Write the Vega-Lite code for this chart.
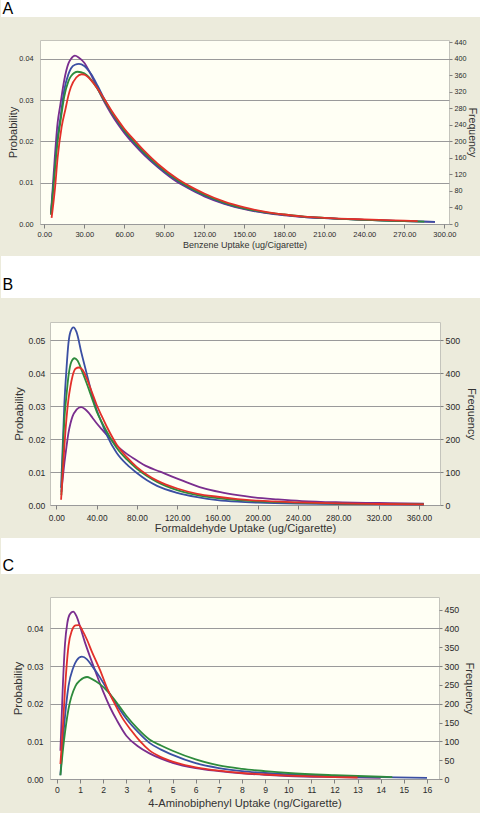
{
  "$schema": "https://vega.github.io/schema/vega-lite/v6.json",
  "background": "#ECEBDC",
  "padding": {"left": 0, "right": 0, "top": 0, "bottom": 3},
  "spacing": 2,
  "columns": 1,
  "align": "none",
  "config": {
    "font": "Liberation Sans",
    "view": {"stroke": "#C4C4BC", "fill": "#FFFFF4"},
    "axis": {"labelFont": "Liberation Sans", "titleFont": "Liberation Sans", "labelColor": "#2A2A2A", "titleColor": "#333333", "titleFontWeight": "normal", "domain": false, "tickColor": "#808080", "labelFlush": false, "labelOverlap": false, "labelBound": false, "grid": false, "gridColor": "#9A9A9A", "gridWidth": 1},
    "title": {"font": "Liberation Sans", "fontWeight": "normal", "color": "#000000", "fontSize": 16, "anchor": "start", "frame": "group", "baseline": "alphabetic", "dx": 1.5},
    "line": {"strokeWidth": 1.8, "interpolate": "monotone"},
    "point": {"opacity": 0, "size": 1}
  },
  "datasets": {
    "a": [
      {"x":5,"p":0.0025,"s":"S1"},{"x":7,"p":0.012,"s":"S1"},{"x":10,"p":0.0245,"s":"S1"},{"x":12,"p":0.0288,"s":"S1"},{"x":15,"p":0.0349,"s":"S1"},{"x":18,"p":0.0388,"s":"S1"},{"x":20,"p":0.0400,"s":"S1"},{"x":23,"p":0.0408,"s":"S1"},{"x":26,"p":0.0403,"s":"S1"},{"x":30,"p":0.0391,"s":"S1"},{"x":35,"p":0.0362,"s":"S1"},{"x":40,"p":0.0328,"s":"S1"},{"x":45,"p":0.0296,"s":"S1"},{"x":50,"p":0.0268,"s":"S1"},{"x":55,"p":0.0243,"s":"S1"},{"x":60,"p":0.0221,"s":"S1"},{"x":67,"p":0.0194,"s":"S1"},{"x":75,"p":0.0167,"s":"S1"},{"x":85,"p":0.0138,"s":"S1"},{"x":100,"p":0.0101,"s":"S1"},{"x":110,"p":0.0083,"s":"S1"},{"x":120,"p":0.0067,"s":"S1"},{"x":135,"p":0.0049,"s":"S1"},{"x":150,"p":0.0036,"s":"S1"},{"x":165,"p":0.0027,"s":"S1"},{"x":180,"p":0.0021,"s":"S1"},{"x":195,"p":0.0017,"s":"S1"},{"x":210,"p":0.0014,"s":"S1"},{"x":240,"p":0.0010,"s":"S1"},{"x":270,"p":0.0007,"s":"S1"},{"x":293,"p":0.0005,"s":"S1"},
      {"x":5,"p":0.0025,"s":"S2"},{"x":7,"p":0.010,"s":"S2"},{"x":10,"p":0.021,"s":"S2"},{"x":12,"p":0.0255,"s":"S2"},{"x":15,"p":0.0325,"s":"S2"},{"x":18,"p":0.0362,"s":"S2"},{"x":20,"p":0.0377,"s":"S2"},{"x":23,"p":0.0386,"s":"S2"},{"x":26,"p":0.0388,"s":"S2"},{"x":30,"p":0.0383,"s":"S2"},{"x":35,"p":0.0364,"s":"S2"},{"x":40,"p":0.0335,"s":"S2"},{"x":45,"p":0.0303,"s":"S2"},{"x":50,"p":0.0274,"s":"S2"},{"x":55,"p":0.0248,"s":"S2"},{"x":60,"p":0.0225,"s":"S2"},{"x":67,"p":0.0198,"s":"S2"},{"x":75,"p":0.0170,"s":"S2"},{"x":85,"p":0.0140,"s":"S2"},{"x":100,"p":0.0104,"s":"S2"},{"x":110,"p":0.0085,"s":"S2"},{"x":120,"p":0.0069,"s":"S2"},{"x":135,"p":0.0050,"s":"S2"},{"x":150,"p":0.0037,"s":"S2"},{"x":165,"p":0.0028,"s":"S2"},{"x":180,"p":0.0022,"s":"S2"},{"x":195,"p":0.0017,"s":"S2"},{"x":210,"p":0.0014,"s":"S2"},{"x":240,"p":0.0010,"s":"S2"},{"x":270,"p":0.0007,"s":"S2"},{"x":293,"p":0.0005,"s":"S2"},
      {"x":5,"p":0.0022,"s":"S3"},{"x":7,"p":0.0095,"s":"S3"},{"x":10,"p":0.0200,"s":"S3"},{"x":12,"p":0.0245,"s":"S3"},{"x":15,"p":0.0309,"s":"S3"},{"x":18,"p":0.0345,"s":"S3"},{"x":20,"p":0.0358,"s":"S3"},{"x":25,"p":0.0369,"s":"S3"},{"x":30,"p":0.0365,"s":"S3"},{"x":35,"p":0.0350,"s":"S3"},{"x":40,"p":0.0327,"s":"S3"},{"x":45,"p":0.0300,"s":"S3"},{"x":50,"p":0.0274,"s":"S3"},{"x":55,"p":0.0250,"s":"S3"},{"x":60,"p":0.0227,"s":"S3"},{"x":67,"p":0.0201,"s":"S3"},{"x":75,"p":0.0173,"s":"S3"},{"x":85,"p":0.0143,"s":"S3"},{"x":100,"p":0.0106,"s":"S3"},{"x":110,"p":0.0087,"s":"S3"},{"x":120,"p":0.0071,"s":"S3"},{"x":135,"p":0.0052,"s":"S3"},{"x":150,"p":0.0038,"s":"S3"},{"x":165,"p":0.0029,"s":"S3"},{"x":180,"p":0.0023,"s":"S3"},{"x":195,"p":0.0018,"s":"S3"},{"x":210,"p":0.0015,"s":"S3"},{"x":240,"p":0.0010,"s":"S3"},{"x":270,"p":0.0007,"s":"S3"},{"x":285,"p":0.0006,"s":"S3"},
      {"x":5.5,"p":0.0015,"s":"S4"},{"x":8,"p":0.0085,"s":"S4"},{"x":10,"p":0.0160,"s":"S4"},{"x":13,"p":0.0235,"s":"S4"},{"x":16,"p":0.0280,"s":"S4"},{"x":18,"p":0.0310,"s":"S4"},{"x":20,"p":0.0332,"s":"S4"},{"x":24,"p":0.0355,"s":"S4"},{"x":28,"p":0.0363,"s":"S4"},{"x":30,"p":0.0362,"s":"S4"},{"x":35,"p":0.0349,"s":"S4"},{"x":40,"p":0.0328,"s":"S4"},{"x":45,"p":0.0303,"s":"S4"},{"x":50,"p":0.0277,"s":"S4"},{"x":55,"p":0.0253,"s":"S4"},{"x":60,"p":0.0231,"s":"S4"},{"x":67,"p":0.0205,"s":"S4"},{"x":75,"p":0.0177,"s":"S4"},{"x":85,"p":0.0146,"s":"S4"},{"x":100,"p":0.0109,"s":"S4"},{"x":110,"p":0.0090,"s":"S4"},{"x":120,"p":0.0074,"s":"S4"},{"x":135,"p":0.0054,"s":"S4"},{"x":150,"p":0.0040,"s":"S4"},{"x":165,"p":0.0030,"s":"S4"},{"x":180,"p":0.0023,"s":"S4"},{"x":195,"p":0.0018,"s":"S4"},{"x":210,"p":0.0015,"s":"S4"},{"x":240,"p":0.0011,"s":"S4"},{"x":270,"p":0.0008,"s":"S4"},{"x":280,"p":0.0007,"s":"S4"}
    ],
    "b": [
      {"x":5,"p":0.004,"s":"S1"},{"x":8,"p":0.0127,"s":"S1"},{"x":10,"p":0.0175,"s":"S1"},{"x":12,"p":0.0218,"s":"S1"},{"x":14,"p":0.0247,"s":"S1"},{"x":16,"p":0.0268,"s":"S1"},{"x":20,"p":0.0289,"s":"S1"},{"x":24.5,"p":0.0297,"s":"S1"},{"x":28,"p":0.0292,"s":"S1"},{"x":32,"p":0.0280,"s":"S1"},{"x":36,"p":0.0264,"s":"S1"},{"x":40,"p":0.0248,"s":"S1"},{"x":45,"p":0.0230,"s":"S1"},{"x":50,"p":0.0213,"s":"S1"},{"x":60,"p":0.0180,"s":"S1"},{"x":70,"p":0.0155,"s":"S1"},{"x":80,"p":0.0135,"s":"S1"},{"x":90,"p":0.0117,"s":"S1"},{"x":103,"p":0.0101,"s":"S1"},{"x":115,"p":0.0086,"s":"S1"},{"x":126,"p":0.0073,"s":"S1"},{"x":145,"p":0.0052,"s":"S1"},{"x":163,"p":0.0039,"s":"S1"},{"x":180,"p":0.0030,"s":"S1"},{"x":194,"p":0.0024,"s":"S1"},{"x":220,"p":0.0017,"s":"S1"},{"x":244,"p":0.0012,"s":"S1"},{"x":284,"p":0.0008,"s":"S1"},{"x":320,"p":0.0006,"s":"S1"},{"x":365,"p":0.0004,"s":"S1"},
      {"x":4.7,"p":0.0052,"s":"S2"},{"x":8,"p":0.031,"s":"S2"},{"x":10,"p":0.041,"s":"S2"},{"x":12,"p":0.049,"s":"S2"},{"x":14,"p":0.0525,"s":"S2"},{"x":17,"p":0.0539,"s":"S2"},{"x":20,"p":0.0525,"s":"S2"},{"x":25,"p":0.0460,"s":"S2"},{"x":30,"p":0.0400,"s":"S2"},{"x":35,"p":0.0340,"s":"S2"},{"x":40,"p":0.0289,"s":"S2"},{"x":45,"p":0.0250,"s":"S2"},{"x":50,"p":0.0213,"s":"S2"},{"x":60,"p":0.0158,"s":"S2"},{"x":70,"p":0.0123,"s":"S2"},{"x":80,"p":0.0097,"s":"S2"},{"x":90,"p":0.0075,"s":"S2"},{"x":100,"p":0.0058,"s":"S2"},{"x":120,"p":0.0037,"s":"S2"},{"x":140,"p":0.0024,"s":"S2"},{"x":160,"p":0.0015,"s":"S2"},{"x":180,"p":0.0010,"s":"S2"},{"x":200,"p":0.0007,"s":"S2"},{"x":240,"p":0.0004,"s":"S2"},{"x":280,"p":0.0003,"s":"S2"},{"x":365,"p":0.0001,"s":"S2"},
      {"x":5,"p":0.003,"s":"S3"},{"x":8,"p":0.026,"s":"S3"},{"x":10,"p":0.033,"s":"S3"},{"x":12,"p":0.039,"s":"S3"},{"x":15,"p":0.0435,"s":"S3"},{"x":18,"p":0.0445,"s":"S3"},{"x":21,"p":0.0438,"s":"S3"},{"x":25,"p":0.0410,"s":"S3"},{"x":30,"p":0.0370,"s":"S3"},{"x":35,"p":0.0327,"s":"S3"},{"x":40,"p":0.0284,"s":"S3"},{"x":45,"p":0.0252,"s":"S3"},{"x":50,"p":0.0223,"s":"S3"},{"x":60,"p":0.0173,"s":"S3"},{"x":70,"p":0.0138,"s":"S3"},{"x":80,"p":0.0110,"s":"S3"},{"x":90,"p":0.0088,"s":"S3"},{"x":100,"p":0.0070,"s":"S3"},{"x":120,"p":0.0045,"s":"S3"},{"x":140,"p":0.0030,"s":"S3"},{"x":160,"p":0.0021,"s":"S3"},{"x":180,"p":0.0015,"s":"S3"},{"x":200,"p":0.0011,"s":"S3"},{"x":240,"p":0.0007,"s":"S3"},{"x":280,"p":0.0004,"s":"S3"},{"x":320,"p":0.0003,"s":"S3"},{"x":365,"p":0.0002,"s":"S3"},
      {"x":4.7,"p":0.0016,"s":"S4"},{"x":8,"p":0.0178,"s":"S4"},{"x":10,"p":0.026,"s":"S4"},{"x":12,"p":0.032,"s":"S4"},{"x":14,"p":0.036,"s":"S4"},{"x":16,"p":0.039,"s":"S4"},{"x":19,"p":0.0413,"s":"S4"},{"x":22.5,"p":0.0417,"s":"S4"},{"x":26,"p":0.0410,"s":"S4"},{"x":30,"p":0.0385,"s":"S4"},{"x":35,"p":0.0345,"s":"S4"},{"x":40,"p":0.0304,"s":"S4"},{"x":45,"p":0.0270,"s":"S4"},{"x":50,"p":0.0238,"s":"S4"},{"x":60,"p":0.0183,"s":"S4"},{"x":70,"p":0.0145,"s":"S4"},{"x":80,"p":0.0115,"s":"S4"},{"x":90,"p":0.0092,"s":"S4"},{"x":100,"p":0.0074,"s":"S4"},{"x":120,"p":0.0050,"s":"S4"},{"x":140,"p":0.0034,"s":"S4"},{"x":160,"p":0.0025,"s":"S4"},{"x":180,"p":0.0018,"s":"S4"},{"x":200,"p":0.0013,"s":"S4"},{"x":240,"p":0.0008,"s":"S4"},{"x":280,"p":0.0005,"s":"S4"},{"x":320,"p":0.0003,"s":"S4"},{"x":365,"p":0.0002,"s":"S4"}
    ],
    "c": [
      {"x":0.15,"p":0.0075,"s":"S1"},{"x":0.25,"p":0.024,"s":"S1"},{"x":0.35,"p":0.036,"s":"S1"},{"x":0.45,"p":0.0415,"s":"S1"},{"x":0.55,"p":0.0437,"s":"S1"},{"x":0.7,"p":0.0445,"s":"S1"},{"x":0.85,"p":0.0432,"s":"S1"},{"x":1.0,"p":0.0405,"s":"S1"},{"x":1.2,"p":0.0365,"s":"S1"},{"x":1.43,"p":0.0325,"s":"S1"},{"x":1.7,"p":0.0280,"s":"S1"},{"x":2.0,"p":0.0232,"s":"S1"},{"x":2.3,"p":0.0190,"s":"S1"},{"x":2.6,"p":0.0155,"s":"S1"},{"x":3.0,"p":0.0115,"s":"S1"},{"x":3.5,"p":0.0087,"s":"S1"},{"x":4.0,"p":0.0068,"s":"S1"},{"x":4.5,"p":0.0054,"s":"S1"},{"x":5,"p":0.0043,"s":"S1"},{"x":6,"p":0.0029,"s":"S1"},{"x":7,"p":0.0021,"s":"S1"},{"x":8,"p":0.0015,"s":"S1"},{"x":9,"p":0.0011,"s":"S1"},{"x":10,"p":0.0008,"s":"S1"},{"x":12,"p":0.0005,"s":"S1"},{"x":14,"p":0.0003,"s":"S1"},
      {"x":0.15,"p":0.001,"s":"S2"},{"x":0.3,"p":0.0133,"s":"S2"},{"x":0.5,"p":0.0247,"s":"S2"},{"x":0.7,"p":0.0295,"s":"S2"},{"x":0.85,"p":0.0315,"s":"S2"},{"x":1.08,"p":0.0325,"s":"S2"},{"x":1.3,"p":0.0318,"s":"S2"},{"x":1.5,"p":0.0302,"s":"S2"},{"x":1.86,"p":0.0270,"s":"S2"},{"x":2.2,"p":0.0235,"s":"S2"},{"x":2.5,"p":0.0205,"s":"S2"},{"x":3.0,"p":0.0160,"s":"S2"},{"x":3.5,"p":0.0125,"s":"S2"},{"x":4.0,"p":0.0096,"s":"S2"},{"x":4.5,"p":0.0078,"s":"S2"},{"x":5,"p":0.0064,"s":"S2"},{"x":6,"p":0.0042,"s":"S2"},{"x":7,"p":0.0029,"s":"S2"},{"x":8,"p":0.0021,"s":"S2"},{"x":9,"p":0.0016,"s":"S2"},{"x":10,"p":0.0012,"s":"S2"},{"x":12,"p":0.0007,"s":"S2"},{"x":14,"p":0.0005,"s":"S2"},{"x":16,"p":0.0003,"s":"S2"},
      {"x":0.15,"p":0.001,"s":"S3"},{"x":0.3,"p":0.0099,"s":"S3"},{"x":0.5,"p":0.0186,"s":"S3"},{"x":0.8,"p":0.0247,"s":"S3"},{"x":1.0,"p":0.0262,"s":"S3"},{"x":1.3,"p":0.0271,"s":"S3"},{"x":1.5,"p":0.0266,"s":"S3"},{"x":1.86,"p":0.0252,"s":"S3"},{"x":2.2,"p":0.0232,"s":"S3"},{"x":2.5,"p":0.0210,"s":"S3"},{"x":3.0,"p":0.0168,"s":"S3"},{"x":3.5,"p":0.0133,"s":"S3"},{"x":4.0,"p":0.0105,"s":"S3"},{"x":4.5,"p":0.0089,"s":"S3"},{"x":5,"p":0.0075,"s":"S3"},{"x":6,"p":0.0052,"s":"S3"},{"x":7,"p":0.0036,"s":"S3"},{"x":8,"p":0.0027,"s":"S3"},{"x":9,"p":0.0021,"s":"S3"},{"x":10,"p":0.0016,"s":"S3"},{"x":12,"p":0.0010,"s":"S3"},{"x":14,"p":0.0006,"s":"S3"},{"x":14.5,"p":0.0005,"s":"S3"},
      {"x":0.15,"p":0.004,"s":"S4"},{"x":0.25,"p":0.013,"s":"S4"},{"x":0.35,"p":0.024,"s":"S4"},{"x":0.5,"p":0.0354,"s":"S4"},{"x":0.65,"p":0.0395,"s":"S4"},{"x":0.8,"p":0.0408,"s":"S4"},{"x":0.95,"p":0.0409,"s":"S4"},{"x":1.1,"p":0.0395,"s":"S4"},{"x":1.3,"p":0.0370,"s":"S4"},{"x":1.5,"p":0.0340,"s":"S4"},{"x":1.86,"p":0.0290,"s":"S4"},{"x":2.2,"p":0.0237,"s":"S4"},{"x":2.5,"p":0.0200,"s":"S4"},{"x":2.8,"p":0.0165,"s":"S4"},{"x":3.2,"p":0.0130,"s":"S4"},{"x":3.6,"p":0.0100,"s":"S4"},{"x":4.0,"p":0.0076,"s":"S4"},{"x":4.5,"p":0.0058,"s":"S4"},{"x":5,"p":0.0046,"s":"S4"},{"x":6,"p":0.0031,"s":"S4"},{"x":7,"p":0.0022,"s":"S4"},{"x":8,"p":0.0016,"s":"S4"},{"x":9,"p":0.0012,"s":"S4"},{"x":10,"p":0.0009,"s":"S4"},{"x":11,"p":0.0007,"s":"S4"},{"x":12,"p":0.0005,"s":"S4"},{"x":13,"p":0.0004,"s":"S4"}
    ]
  },
  "concat": [
    {
      "width": 480, "height": 17,
      "view": {"fill": "#FFFFFF", "stroke": null},
      "title": {"text": "A", "offset": -16.7},
      "data": {"values": []},
      "mark": "rect",
      "encoding": {}
    },
    {
      "columns": 2, "align": "none", "spacing": 0,
      "concat": [
        {"width": 2, "height": 2, "view": {"fill": "transparent", "stroke": "transparent"}, "data": {"values": []}, "mark": "rect", "encoding": {}},
        {
          "width": 409, "height": 184,
          "view": {"fill": "#FFFFF4", "stroke": "#C4C4BC"},
          "data": {"name": "a"},
          "layer": [
            {
              "mark": {"type": "line"},
              "encoding": {
                "x": {"field": "x", "type": "quantitative", "scale": {"domain": [-3.2, 303.5], "nice": false, "zero": false},
                      "axis": {"orient": "bottom", "values": [0,30,60,90,120,150,180,210,240,270,300], "format": ".2f", "tickSize": 4, "labelPadding": 2.1, "labelFontSize": 7.5, "title": "Benzene Uptake (ug/Cigarette)", "titleFontSize": 9, "minExtent": 13, "maxExtent": 13, "titlePadding": 3.9}},
                "y": {"field": "p", "type": "quantitative", "scale": {"domain": [0, 0.0446], "nice": false},
                      "axis": {"orient": "left", "values": [0,0.01,0.02,0.03,0.04], "format": ".2f", "ticks": false, "labelPadding": 7, "labelFontSize": 7.3, "grid": true, "title": "Probability", "titleFontSize": 11, "minExtent": 19, "maxExtent": 19, "titlePadding": 2.6}},
                "color": {"field": "s", "type": "nominal", "legend": null, "scale": {"domain": ["S1","S2","S3","S4"], "range": ["#7A2E8E","#3B4FA3","#2E8B3C","#E3302A"]}}
              }
            },
            {
              "mark": {"type": "point"},
              "encoding": {
                "x": {"field": "x", "type": "quantitative", "axis": {"orient": "top", "labels": false, "ticks": false, "domain": false, "grid": false, "title": null, "minExtent": 20.5, "maxExtent": 20.5}},
                "y": {"field": "p", "type": "quantitative",
                      "axis": {"orient": "right", "values": [0,0.004,0.008,0.012,0.016,0.02,0.024,0.028,0.032,0.036,0.04,0.044], "labelExpr": "format(datum.value * 10000, 'd')", "tickSize": 3, "labelPadding": 2, "labelFontSize": 7.2, "title": "Frequency", "titleFontSize": 10.5, "minExtent": 16, "maxExtent": 16, "titlePadding": 1.9}}
              }
            },
            {
              "mark": {"type": "point"},
              "encoding": {
                "x": {"field": "x", "type": "quantitative", "axis": {"orient": "bottom", "labels": false, "ticks": false, "domain": false, "grid": false, "title": null, "minExtent": 29.5, "maxExtent": 29.5}},
                "y": {"field": "p", "type": "quantitative", "axis": {"orient": "left", "labels": false, "ticks": false, "domain": false, "grid": false, "title": null, "minExtent": 35.5, "maxExtent": 35.5}}
              }
            }
          ],
          "resolve": {"axis": {"x": "independent", "y": "independent"}}
        }
      ]
    },
    {
      "width": 480, "height": 42,
      "view": {"fill": "#FFFFFF", "stroke": null},
      "title": {"text": "B", "offset": -36.9},
      "data": {"values": []},
      "mark": "rect",
      "encoding": {}
    },
    {
      "columns": 2, "align": "none", "spacing": 0,
      "concat": [
        {"width": 2, "height": 2, "view": {"fill": "transparent", "stroke": "transparent"}, "data": {"values": []}, "mark": "rect", "encoding": {}},
        {
          "width": 390, "height": 183,
          "view": {"fill": "#FFFFF4", "stroke": "#C4C4BC"},
          "data": {"name": "b"},
          "layer": [
            {
              "mark": {"type": "line"},
              "encoding": {
                "x": {"field": "x", "type": "quantitative", "scale": {"domain": [-6.3, 381], "nice": false, "zero": false},
                      "axis": {"orient": "bottom", "values": [0,40,80,120,160,200,240,280,320,360], "format": ".2f", "tickSize": 4, "labelPadding": 4.5, "labelFontSize": 8.3, "title": "Formaldehyde Uptake (ug/Cigarette)", "titleFontSize": 11.2, "minExtent": 16, "maxExtent": 16, "titlePadding": 1.6}},
                "y": {"field": "p", "type": "quantitative", "scale": {"domain": [0, 0.0555], "nice": false},
                      "axis": {"orient": "left", "values": [0,0.01,0.02,0.03,0.04,0.05], "format": ".2f", "ticks": false, "labelPadding": 5.3, "labelFontSize": 8.6, "grid": true, "title": "Probability", "titleFontSize": 11.5, "minExtent": 23, "maxExtent": 23, "titlePadding": 2.6}},
                "color": {"field": "s", "type": "nominal", "legend": null, "scale": {"domain": ["S1","S2","S3","S4"], "range": ["#7A2E8E","#3B4FA3","#2E8B3C","#E3302A"]}}
              }
            },
            {
              "mark": {"type": "point"},
              "encoding": {
                "x": {"field": "x", "type": "quantitative", "axis": {"orient": "top", "labels": false, "ticks": false, "domain": false, "grid": false, "title": null, "minExtent": 21.5, "maxExtent": 21.5}},
                "y": {"field": "p", "type": "quantitative",
                      "axis": {"orient": "right", "values": [0,0.01,0.02,0.03,0.04,0.05], "labelExpr": "format(datum.value * 10000, 'd')", "tickSize": 3, "labelPadding": 2, "labelFontSize": 8.8, "title": "Frequency", "titleFontSize": 11, "minExtent": 22, "maxExtent": 22, "titlePadding": 3}}
              }
            },
            {
              "mark": {"type": "point"},
              "encoding": {
                "x": {"field": "x", "type": "quantitative", "axis": {"orient": "bottom", "labels": false, "ticks": false, "domain": false, "grid": false, "title": null, "minExtent": 30.5, "maxExtent": 30.5}},
                "y": {"field": "p", "type": "quantitative", "axis": {"orient": "left", "labels": false, "ticks": false, "domain": false, "grid": false, "title": null, "minExtent": 45.5, "maxExtent": 45.5}}
              }
            }
          ],
          "resolve": {"axis": {"x": "independent", "y": "independent"}}
        }
      ]
    },
    {
      "width": 480, "height": 36,
      "view": {"fill": "#FFFFFF", "stroke": null},
      "title": {"text": "C", "offset": -35.9},
      "data": {"values": []},
      "mark": "rect",
      "encoding": {}
    },
    {
      "columns": 2, "align": "none", "spacing": 0,
      "concat": [
        {"width": 2, "height": 2, "view": {"fill": "transparent", "stroke": "transparent"}, "data": {"values": []}, "mark": "rect", "encoding": {}},
        {
          "width": 389, "height": 182,
          "view": {"fill": "#FFFFF4", "stroke": "#C4C4BC"},
          "data": {"name": "c"},
          "layer": [
            {
              "mark": {"type": "line"},
              "encoding": {
                "x": {"field": "x", "type": "quantitative", "scale": {"domain": [-0.3, 16.52], "nice": false, "zero": false},
                      "axis": {"orient": "bottom", "values": [0,1,2,3,4,5,6,7,8,9,10,11,12,13,14,15,16], "format": "d", "tickSize": 4, "labelPadding": 2.5, "labelFontSize": 8.6, "title": "4-Aminobiphenyl Uptake (ng/Cigarette)", "titleFontSize": 11.2, "minExtent": 15, "maxExtent": 15, "titlePadding": 3}},
                "y": {"field": "p", "type": "quantitative", "scale": {"domain": [0, 0.04836], "nice": false},
                      "axis": {"orient": "left", "values": [0,0.01,0.02,0.03,0.04], "format": ".2f", "ticks": false, "labelPadding": 7, "labelFontSize": 8.4, "grid": true, "title": "Probability", "titleFontSize": 11.5, "minExtent": 24, "maxExtent": 24, "titlePadding": 2.5}},
                "color": {"field": "s", "type": "nominal", "legend": null, "scale": {"domain": ["S1","S2","S3","S4"], "range": ["#7A2E8E","#3B4FA3","#2E8B3C","#E3302A"]}}
              }
            },
            {
              "mark": {"type": "point"},
              "encoding": {
                "x": {"field": "x", "type": "quantitative", "axis": {"orient": "top", "labels": false, "ticks": false, "domain": false, "grid": false, "title": null, "minExtent": 20.5, "maxExtent": 20.5}},
                "y": {"field": "p", "type": "quantitative",
                      "axis": {"orient": "right", "values": [0,0.005,0.01,0.015,0.02,0.025,0.03,0.035,0.04,0.045], "labelExpr": "format(datum.value * 10000, 'd')", "tickSize": 3, "labelPadding": 2, "labelFontSize": 8.8, "title": "Frequency", "titleFontSize": 11, "minExtent": 21, "maxExtent": 21, "titlePadding": 3.3}}
              }
            },
            {
              "mark": {"type": "point"},
              "encoding": {
                "x": {"field": "x", "type": "quantitative", "axis": {"orient": "bottom", "labels": false, "ticks": false, "domain": false, "grid": false, "title": null, "minExtent": 30, "maxExtent": 30}},
                "y": {"field": "p", "type": "quantitative", "axis": {"orient": "left", "labels": false, "ticks": false, "domain": false, "grid": false, "title": null, "minExtent": 45.5, "maxExtent": 45.5}}
              }
            }
          ],
          "resolve": {"axis": {"x": "independent", "y": "independent"}}
        }
      ]
    }
  ]
}
